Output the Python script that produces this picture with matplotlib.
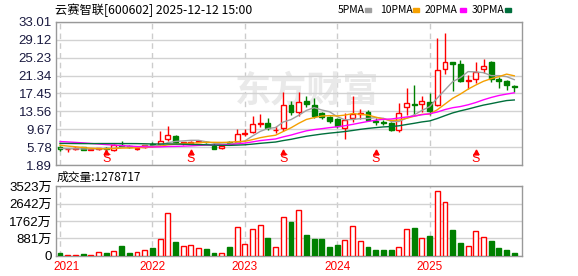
import numpy as np
import pandas as pd
import matplotlib
matplotlib.use("Agg")
import matplotlib.pyplot as plt
from matplotlib.patches import Rectangle

plt.rcParams['font.family'] = ['Liberation Sans', 'Noto Sans CJK SC', 'DejaVu Sans']

UP = "#ff0000"
DOWN = "#008000"
MA_COLORS = {5: "#a0a0a0", 10: "#f5a000", 20: "#ff00ff", 30: "#006f3c"}

title = "云赛智联[600602] 2025-12-12 15:00"
vol_title = "成交量:1278717"
years = ["2021", "2022", "2023", "2024", "2025"]
s_marks = ["2021-07", "2022-06", "2023-06", "2024-06", "2025-07"]

# monthly closes 2018-08 .. 2020-12, only used to seed the moving averages
prior_close = [6.0, 6.2, 5.6, 5.5, 5.0, 5.4, 6.2, 6.3, 5.9, 5.9,
               7.2, 7.6, 7.4, 7.8, 8.0, 7.9, 8.4, 8.2, 7.9, 7.6,
               7.3, 7.1, 6.9, 6.8, 6.4, 5.8, 5.6, 5.4, 5.4]

# monthly candles 2021-01 .. 2025-12
open_ = [5.7, 5.3, 5.4, 5.7, 5.25, 5.35, 5.5, 5.1, 6.3, 6.1, 5.3, 5.8,
         6.5, 6.4, 7.5, 8.2, 6.6, 6.7, 7.0, 7.0, 6.0, 5.5, 6.9, 7.0,
         8.7, 9.1, 10.9, 11.1, 9.4, 9.9, 14.95, 13.4, 15.9, 14.95, 13.2, 12.4,
         11.9, 10.0, 12.1, 13.0, 13.5, 11.5, 11.2, 11.0, 9.6, 14.5, 15.1, 15.1,
         15.7, 15.0, 22.7, 24.2, 23.9, 20.1, 20.5, 22.7, 24.2, 20.6, 20.2, 19.0]
high = [6.0, 5.5, 5.7, 5.8, 5.5, 5.6, 5.9, 6.5, 7.1, 6.2, 5.7, 6.3,
        7.0, 9.3, 10.4, 8.4, 7.0, 7.2, 7.3, 7.2, 6.8, 6.2, 7.1, 9.7,
        9.7, 12.6, 13.0, 12.1, 10.4, 17.8, 15.9, 17.7, 16.8, 16.4, 13.5, 12.6,
        12.2, 13.1, 16.8, 14.0, 13.8, 12.1, 11.6, 11.3, 15.4, 18.6, 19.3, 16.9,
        17.6, 29.6, 30.7, 24.3, 24.7, 21.5, 24.2, 24.9, 24.5, 21.0, 20.3, 19.3]
low = [5.0, 4.8, 5.2, 5.1, 5.1, 5.1, 5.0, 5.0, 5.9, 5.6, 5.2, 5.6,
       5.9, 6.2, 7.2, 6.6, 6.2, 6.4, 6.8, 6.6, 5.3, 5.3, 6.2, 6.8,
       8.2, 8.8, 10.2, 9.5, 8.85, 9.3, 12.8, 12.5, 14.5, 12.2, 12.0, 11.0,
       9.9, 7.6, 11.3, 11.8, 11.4, 10.7, 10.5, 9.2, 9.1, 12.8, 12.6, 13.5,
       12.8, 14.7, 21.8, 18.1, 20.0, 18.4, 19.7, 22.0, 20.0, 18.7, 18.2, 17.8]
close = [5.3, 5.4, 5.6, 5.25, 5.35, 5.5, 5.4, 6.3, 6.1, 5.8, 5.6, 6.2,
         6.3, 7.2, 8.4, 7.0, 6.8, 6.9, 7.2, 6.8, 5.45, 6.0, 6.7, 8.6,
         8.9, 10.8, 11.0, 9.9, 9.6, 14.95, 13.4, 15.7, 15.2, 12.6, 12.4, 11.5,
         10.4, 11.7, 13.0, 13.3, 11.7, 11.3, 11.0, 9.6, 13.2, 15.3, 14.9, 15.8,
         13.7, 22.6, 24.2, 23.8, 20.2, 20.3, 22.2, 23.4, 20.6, 20.2, 19.2, 18.9]
# volume in 万
volume = [170, 70, 70, 90, 70, 190, 160, 260, 500, 150, 190, 300,
          420, 855, 2180, 720, 500, 550, 400, 350, 150, 150, 435, 1440,
          600, 1340, 1540, 905, 435, 1945, 1710, 2300, 1055, 855, 855, 450,
          550, 800, 1510, 755, 450, 300, 300, 300, 450, 1340, 1425, 890,
          1005, 3270, 2700, 1310, 670, 500, 1260, 940, 770, 400, 300, 128]

months = pd.period_range("2021-01", periods=len(close), freq="M").strftime("%Y-%m").tolist()
x = np.arange(len(close))
all_close = pd.Series(prior_close + close)

fig = plt.figure(figsize=(5.78, 2.76), dpi=100)
ax = fig.add_axes([56 / 578, 1 - 165 / 276, 466 / 578, 143 / 276])
axv = fig.add_axes([56 / 578, 1 - 256 / 276, 466 / 578, 70 / 276])

w = 0.64
for a in (ax, axv):
    a.set_xlim(-0.52, 60.0)
    for s in a.spines.values():
        s.set_color("#999999")
        s.set_linewidth(1)
    a.set_xticks([])
    a.tick_params(axis="y", length=0, pad=3, labelsize=9.5, colors="#1a1a40")
    a.grid(axis="y", color="#d2d2d2", lw=1)
    a.set_axisbelow(True)
    for y in years:
        a.axvline(months.index(y + "-01"), color="#cccccc", lw=1, ls=(0, (4, 3)), zorder=0)

# watermark
ax.text(0.54, 0.52, "东方财富", transform=ax.transAxes, ha="center", va="center",
        fontsize=26, fontweight="bold", color="#e9e9e9", family=["Noto Sans CJK SC"], zorder=0)

# candles
for i in x:
    o, h, l, c = open_[i], high[i], low[i], close[i]
    col = UP if c >= o else DOWN
    ax.vlines(i, l, h, color=col, lw=1, zorder=3)
    bot, hgt = min(o, c), max(abs(c - o), 0.05)
    face = "white" if c >= o else DOWN
    ax.add_patch(Rectangle((i - w / 2, bot), w, hgt, facecolor=face, edgecolor=col, lw=1, zorder=4))

# moving averages
for n, col in MA_COLORS.items():
    ma = all_close.rolling(n).mean().iloc[len(prior_close):].values
    ax.plot(x, ma, color=col, lw=1, zorder=5)

# S markers
for m in s_marks:
    i = months.index(m)
    ax.plot(i, 4.7, marker="^", color=UP, ms=3.5, zorder=6)
    ax.text(i, 3.2, "S", color=UP, fontsize=9, ha="center", va="center", zorder=6)

pticks = np.linspace(1.89, 33.01, 9)
ax.set_ylim(pticks[0], pticks[-1])
ax.set_yticks(pticks)
ax.set_yticklabels([f"{t:.2f}" for t in pticks])

# volume
for i in x:
    up = close[i] >= open_[i]
    col = UP if up else DOWN
    axv.add_patch(Rectangle((i - w / 2, 0), w, volume[i], facecolor="white" if up else DOWN,
                            edgecolor=col, lw=1, zorder=3))
vticks = [0, 881, 1762, 2642, 3523]
axv.set_ylim(0, 3523)
axv.set_yticks(vticks)
axv.set_yticklabels(["0"] + [f"{t}万" for t in vticks[1:]])
axv.tick_params(axis="y", colors="black")

for j, y in enumerate(years):
    i = months.index(y + "-01")
    if j == 0:
        axv.text(-0.8, -0.16, y, transform=axv.get_xaxis_transform(), ha="left", va="center",
                 color=UP, fontsize=8.5)
    else:
        axv.text(i, -0.16, y, transform=axv.get_xaxis_transform(), ha="center", va="center",
                 color=UP, fontsize=8.5)

# header texts
cjk = ["Noto Sans CJK SC", "DejaVu Sans"]
fig.text(55 / 578, 1 - 10 / 276, title, fontsize=8.8, va="center", ha="left", family=cjk)
fig.text(57 / 578, 1 - 177 / 276, vol_title, fontsize=8.5, va="center", ha="left", family=cjk)

legend_text_x = [338, 380, 425, 472]
legend_box_x = [365, 413, 460, 505]
for tx, bx, (n, col) in zip(legend_text_x, legend_box_x, MA_COLORS.items()):
    fig.text(tx / 578, 1 - 10 / 276, f"{n}PMA", fontsize=7.5, va="center", ha="left", family=cjk)
    fig.add_artist(Rectangle((bx / 578, 1 - 12 / 276), 6 / 578, 4 / 276,
                             transform=fig.transFigure, color=col))

fig.savefig("out.png", dpi=100)
